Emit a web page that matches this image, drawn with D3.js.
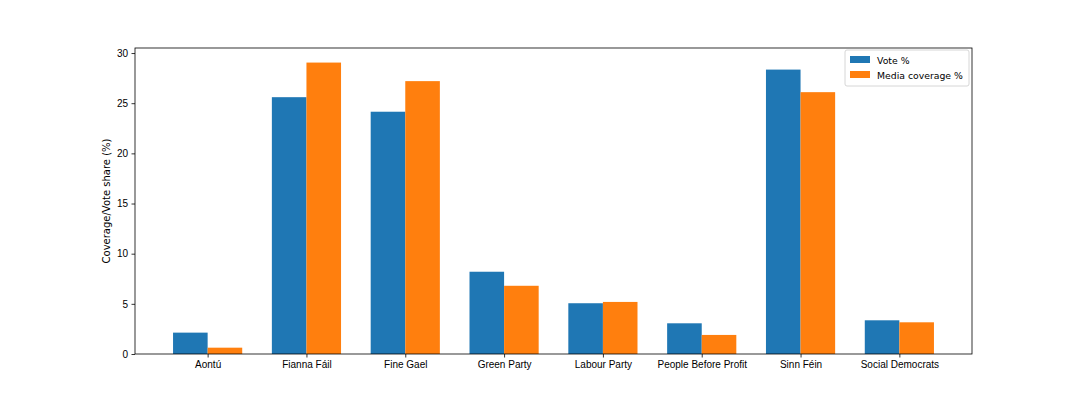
<!DOCTYPE html>
<html>
<head>
<meta charset="utf-8">
<script src="https://cdn.jsdelivr.net/npm/d3@7"></script>
<style>
  body { margin: 0; background: #fff; }
  svg { font-family: "DejaVu Sans", sans-serif; }
</style>
</head>
<body>
<div id="chart"></div>
<script>
// data
const parties = ["Aontú", "Fianna Fáil", "Fine Gael", "Green Party", "Labour Party",
                 "People Before Profit", "Sinn Féin", "Social Democrats"];
const votePct = [2.13, 25.6, 24.15, 8.2, 5.06, 3.06, 28.35, 3.36];
const mediaPct = [0.63, 29.05, 27.2, 6.8, 5.19, 1.9, 26.1, 3.16];
const yTicks = [0, 5, 10, 15, 20, 25, 30];
const seriesNames = ["Vote %", "Media coverage %"];
const colors = ["#1f77b4", "#ff7f0e"];

const W = 1080, H = 405;
const margin = {top: 48, right: 108, bottom: 51, left: 135};
const width = W - margin.left - margin.right,
      height = H - margin.top - margin.bottom;

const svg = d3.select("#chart").append("svg")
    .attr("width", W).attr("height", H);
const g = svg.append("g")
    .attr("transform", "translate(" + margin.left + "," + margin.top + ")");

// matplotlib style numeric x: bars at i -/+ w/2, w = 0.35, 5% margins
const bw = 0.35;
const xLo = -bw, xHi = parties.length - 1 + bw;
const xPad = (xHi - xLo) * 0.05;
const x = d3.scaleLinear().domain([xLo - xPad, xHi + xPad]).range([0, width]);

const yMax = d3.max(votePct.concat(mediaPct)) * 1.05;
const y = d3.scaleLinear().domain([0, yMax]).range([height, 0]);

const series = [votePct, mediaPct];
series.forEach((vals, s) => {
    g.selectAll(".bar" + s)
        .data(vals)
        .enter()
        .append("rect")
        .attr("x", (d, i) => x(i + (s === 0 ? -bw : 0)))
        .attr("width", x(bw) - x(0))
        .attr("y", d => y(d))
        .attr("height", d => height - y(d))
        .style("fill", colors[s]);
});

// axes
const xAxis = d3.axisBottom(x)
    .tickValues(d3.range(parties.length))
    .tickFormat(i => parties[i])
    .tickSizeOuter(0).tickSize(3.5).tickPadding(3.5);
const gx = g.append("g").attr("transform", "translate(0," + height + ")").call(xAxis);

const yAxis = d3.axisLeft(y).tickValues(yTicks).tickSizeOuter(0).tickSize(3.5).tickPadding(3.5);
const gy = g.append("g").call(yAxis);

[gx, gy].forEach(a => {
    a.select(".domain").remove();
    a.selectAll("text").style("font-size", "10px").attr("fill", "#000");
    a.selectAll("line").attr("stroke", "#000").attr("stroke-width", 0.8);
});

// frame
g.append("rect")
    .attr("width", width).attr("height", height)
    .attr("fill", "none").attr("stroke", "#000").attr("stroke-width", 0.8);

// y label
svg.append("text")
    .attr("transform", "translate(110," + (margin.top + height / 2) + ") rotate(-90)")
    .attr("text-anchor", "middle")
    .style("font-size", "10px")
    .text("Coverage/Vote share (%)");

// legend
const lg = g.append("g").attr("transform", "translate(" + (width - 127) + ",2)");
lg.append("rect")
    .attr("width", 124).attr("height", 36).attr("rx", 2)
    .attr("fill", "#fff").attr("fill-opacity", 0.8)
    .attr("stroke", "#ccc").attr("stroke-width", 0.8);
seriesNames.forEach((name, i) => {
    lg.append("rect")
        .attr("x", 5).attr("y", 6 + i * 15)
        .attr("width", 20).attr("height", 7)
        .attr("fill", colors[i]);
    lg.append("text")
        .attr("x", 32).attr("y", 13.5 + i * 15)
        .style("font-size", "9.3px")
        .text(name);
});
</script>
</body>
</html>
